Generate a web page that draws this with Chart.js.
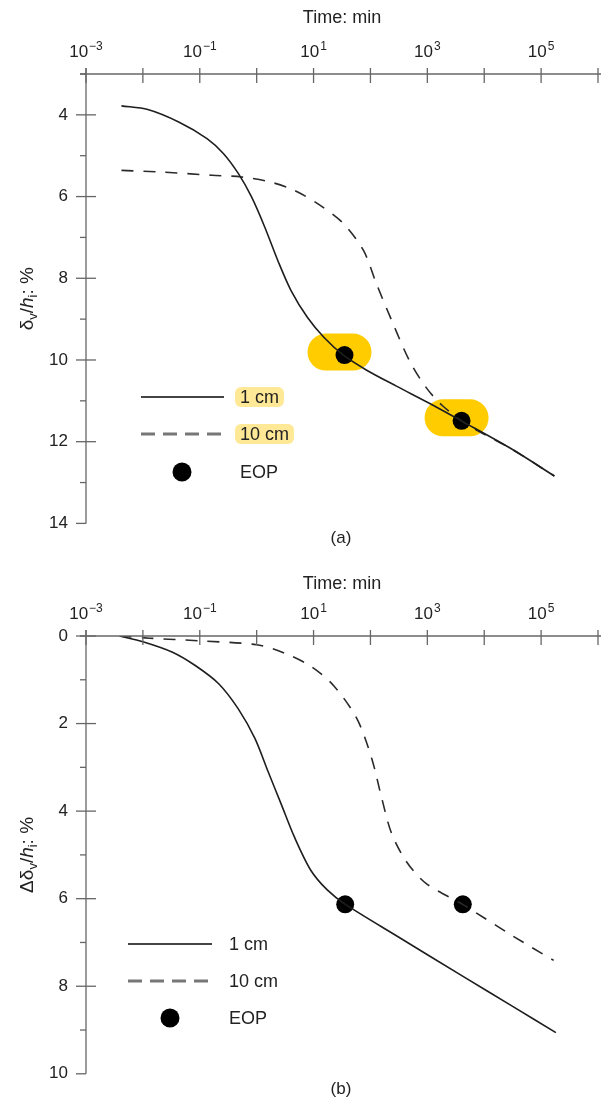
<!DOCTYPE html>
<html>
<head>
<meta charset="utf-8">
<script src="https://cdn.jsdelivr.net/npm/chart.js@4.4.0/dist/chart.umd.min.js"></script>
<style>
  html, body { margin: 0; padding: 0; background: #fff; }
  #wrap { position: relative; width: 607px; height: 1102px; }
  canvas { position: absolute; left: 0; }
  #chartA { top: 0; }
  #chartB { top: 555px; }
</style>
</head>
<body>
<div id="wrap">
  <canvas id="chartA" width="607" height="555"></canvas>
  <canvas id="chartB" width="607" height="547"></canvas>
</div>
<script>
// ---- data (time in min) ----

// (a) delta_v / h_i, %
const timeSolidA = [0.0042, 0.0122, 0.0434, 0.134, 0.262, 0.478, 0.813, 1.39, 2.36, 4.02, 7.83, 15.3, 34, 86, 286, 1084, 3950, 30400, 171000];
const valSolidA  = [3.78, 3.87, 4.18, 4.58, 4.95, 5.44, 6.01, 6.75, 7.57, 8.30, 8.96, 9.45, 9.89, 10.25, 10.64, 11.06, 11.49, 12.18, 12.84];
const timeDashA  = [0.0042, 0.0222, 0.164, 0.545, 1.81, 4.6, 13.3, 34, 75.5, 128, 251, 486, 948, 1850, 5000, 30400, 171000];
const valDashA   = [5.36, 5.40, 5.48, 5.52, 5.65, 5.85, 6.22, 6.67, 7.32, 8.14, 9.12, 10.02, 10.67, 11.12, 11.58, 12.18, 12.84];
const timeEopA   = [35, 4000];
const valEopA    = [9.88, 11.49];

// (b) delta delta_v / h_i, %
const timeSolidB = [0.0039, 0.01, 0.0332, 0.0845, 0.215, 0.478, 0.931, 1.58, 2.7, 4.6, 8.93, 17.4, 36.3, 316, 4170, 31600, 182000];
const valSolidB  = [0.0, 0.13, 0.37, 0.68, 1.09, 1.67, 2.34, 3.09, 3.84, 4.59, 5.35, 5.80, 6.13, 6.88, 7.77, 8.46, 9.06];
const timeDashB  = [0.0039, 0.0131, 0.0964, 0.993, 3.09, 8.93, 22.8, 57.8, 105, 157, 234, 427, 948, 4170, 31600, 166000];
const valDashB   = [0.0, 0.05, 0.11, 0.20, 0.39, 0.69, 1.14, 1.89, 2.79, 3.69, 4.5, 5.15, 5.65, 6.13, 6.85, 7.41];
const timeEopB   = [36, 4200];
const valEopB    = [6.13, 6.13];

// axis ticks
const decadeExps   = [-3, -2, -1, 0, 1, 2, 3, 4, 5, 6];
const labelledExps = [-3, -1, 1, 3, 5];
const legendLabels = ['1 cm', '10 cm', 'EOP'];

const FONT = "'Liberation Sans', Arial, sans-serif";
const INK = '#222';
const AXIS = '#666';

function pairs(xs, ys) {
    return xs.map((x, i) => ({ x: x, y: ys[i] }));
}

function seg(ctx, x1, y1, x2, y2) {
    ctx.beginPath();
    ctx.moveTo(x1, y1);
    ctx.lineTo(x2, y2);
    ctx.stroke();
}

// rotated y title with subscripts / italic h
function drawYTitle(ctx, parts, x, cy) {
    ctx.save();
    ctx.translate(x, cy);
    ctx.rotate(-Math.PI / 2);
    let total = 0;
    parts.forEach(p => {
        ctx.font = p.font;
        p.w = ctx.measureText(p.t).width;
        total += p.w;
    });
    let cx = -total / 2;
    ctx.fillStyle = INK;
    ctx.textAlign = 'left';
    ctx.textBaseline = 'alphabetic';
    parts.forEach(p => {
        ctx.font = p.font;
        ctx.fillText(p.t, cx, p.dy || 0);
        cx += p.w;
    });
    ctx.restore();
}

function decorPlugin(cfg) {
    return {
        id: 'decor',
        beforeDatasetsDraw(chart) {
            if (!cfg.pills) return;
            const ctx = chart.ctx;
            const meta = chart.getDatasetMeta(2);
            ctx.save();
            ctx.fillStyle = '#FFCC00';
            meta.data.forEach(pt => {
                const w = 64, h = 37;
                const cx = pt.x - 5, cy = pt.y - 3;
                ctx.beginPath();
                ctx.roundRect(cx - w / 2, cy - h / 2, w, h, h / 2);
                ctx.fill();
            });
            ctx.restore();
        },
        afterDraw(chart) {
            const ctx = chart.ctx;
            const xs = chart.scales.x;
            const ys = chart.scales.y;
            const a = chart.chartArea;
            ctx.save();

            // axis lines
            ctx.strokeStyle = AXIS;
            ctx.lineWidth = 1.3;
            seg(ctx, a.left - 6, a.top, a.right + 3, a.top);
            seg(ctx, a.left, a.top - 6, a.left, a.bottom);

            // x ticks crossing the axis
            decadeExps.forEach(e => {
                const px = xs.getPixelForValue(Math.pow(10, e));
                seg(ctx, px, a.top - 6, px, a.top + 9);
            });

            // y ticks: major on even values, minor on odd
            for (let v = Math.ceil(ys.min); v <= ys.max; v++) {
                const py = ys.getPixelForValue(v);
                if (v % 2 === 0) {
                    seg(ctx, a.left - 10, py, a.left + (v === ys.max ? 0 : 10), py);
                } else {
                    seg(ctx, a.left - 6, py, a.left, py);
                }
            }

            // x tick labels 10^n
            ctx.fillStyle = INK;
            ctx.textAlign = 'left';
            ctx.textBaseline = 'alphabetic';
            labelledExps.forEach(e => {
                const px = xs.getPixelForValue(Math.pow(10, e));
                const exp = e < 0 ? '\u2212' + Math.abs(e) : String(e);
                ctx.font = '17px ' + FONT;
                const wb = ctx.measureText('10').width;
                ctx.font = '12px ' + FONT;
                const we = ctx.measureText(exp).width;
                const x0 = px - (wb + we + 1) / 2;
                const base = a.top - 17;
                ctx.font = '17px ' + FONT;
                ctx.fillText('10', x0, base);
                ctx.font = '12px ' + FONT;
                ctx.fillText(exp, x0 + wb + 1, base - 7.5);
            });

            // x axis title
            ctx.font = '18px ' + FONT;
            ctx.textAlign = 'center';
            ctx.textBaseline = 'middle';
            ctx.fillText('Time: min', 342, cfg.titleY);

            // y axis title
            drawYTitle(ctx, cfg.yTitle, 33, (a.top + a.bottom) / 2);

            // caption
            ctx.font = '17px ' + FONT;
            ctx.textAlign = 'center';
            ctx.textBaseline = 'middle';
            ctx.fillStyle = INK;
            ctx.fillText(cfg.caption, 341, cfg.captionY);

            // legend
            const L = cfg.legend;
            ctx.strokeStyle = '#444';
            ctx.lineWidth = 2;
            seg(ctx, L.x0, L.rows[0], L.x1, L.rows[0]);
            ctx.strokeStyle = '#777';
            ctx.lineWidth = 3;
            ctx.setLineDash([14, 8]);
            seg(ctx, L.x0, L.rows[1], L.x1, L.rows[1]);
            ctx.setLineDash([]);
            ctx.fillStyle = '#000';
            ctx.beginPath();
            ctx.arc(L.dotX, L.rows[2], 9.5, 0, Math.PI * 2);
            ctx.fill();

            ctx.font = '18px ' + FONT;
            ctx.textAlign = 'left';
            ctx.textBaseline = 'middle';
            legendLabels.forEach((txt, i) => {
                const y = L.rows[i];
                if (L.highlight && i < 2) {
                    const w = ctx.measureText(txt).width;
                    ctx.fillStyle = '#FFE896';
                    ctx.beginPath();
                    ctx.roundRect(L.tx - 5, y - 10, w + 10, 20, 6);
                    ctx.fill();
                }
                ctx.fillStyle = INK;
                ctx.fillText(txt, L.tx, y + 1);
            });

            ctx.restore();
        }
    };
}

function makeChart(id, cfg) {
    return new Chart(document.getElementById(id), {
        type: 'line',
        data: {
            datasets: [{
                label: '1 cm',
                data: pairs(cfg.tSolid, cfg.vSolid),
                borderColor: '#1e1e1e',
                borderWidth: 1.6,
                pointRadius: 0,
                tension: 0.3,
                fill: false
            }, {
                label: '10 cm',
                data: pairs(cfg.tDash, cfg.vDash),
                borderColor: '#2a2a2a',
                borderWidth: 1.6,
                borderDash: [12, 10],
                pointRadius: 0,
                tension: 0.3,
                fill: false
            }, {
                label: 'EOP',
                data: pairs(cfg.tEop, cfg.vEop),
                showLine: false,
                pointRadius: 9,
                pointHoverRadius: 9,
                pointBackgroundColor: '#000',
                pointBorderWidth: 0
            }]
        },
        options: {
            responsive: false,
            animation: false,
            layout: { padding: { left: 0, right: 3, top: 0, bottom: cfg.padBottom } },
            plugins: {
                legend: { display: false },
                tooltip: { enabled: false }
            },
            scales: {
                x: {
                    type: 'logarithmic',
                    position: 'top',
                    min: 1e-3,
                    max: 1e6,
                    ticks: { display: false },
                    grid: { display: false },
                    border: { display: false },
                    afterFit: s => { s.height = cfg.topH; }
                },
                y: {
                    type: 'linear',
                    position: 'left',
                    reverse: true,
                    min: cfg.yMin,
                    max: cfg.yMax,
                    ticks: {
                        stepSize: 1,
                        autoSkip: false,
                        padding: 18,
                        color: INK,
                        font: { family: FONT, size: 17 },
                        callback: v => (v % 2 === 0 ? v : '')
                    },
                    grid: { display: false, drawTicks: false },
                    border: { display: false },
                    afterFit: s => { s.width = 86; }
                }
            }
        },
        plugins: [decorPlugin(cfg)]
    });
}

const SUB = '13px ' + FONT;
const REG = '19px ' + FONT;
const ITA = 'italic 19px ' + FONT;

makeChart('chartA', {
    tSolid: timeSolidA, vSolid: valSolidA,
    tDash: timeDashA, vDash: valDashA,
    tEop: timeEopA, vEop: valEopA,
    yMin: 3, yMax: 14,
    topH: 74, padBottom: 31.6,
    titleY: 18,
    caption: '(a)', captionY: 538,
    pills: true,
    yTitle: [
        { t: '\u03b4', font: REG },
        { t: 'v', font: SUB, dy: 4 },
        { t: '/', font: REG },
        { t: 'h', font: ITA },
        { t: 'i', font: SUB, dy: 4 },
        { t: ': %', font: REG }
    ],
    legend: { x0: 141, x1: 224, dotX: 182, tx: 240, rows: [397, 434, 472], highlight: true }
});

makeChart('chartB', {
    tSolid: timeSolidB, vSolid: valSolidB,
    tDash: timeDashB, vDash: valDashB,
    tEop: timeEopB, vEop: valEopB,
    yMin: 0, yMax: 10,
    topH: 81, padBottom: 22,
    titleY: 29.5,
    caption: '(b)', captionY: 534,
    pills: false,
    yTitle: [
        { t: '\u0394\u03b4', font: REG },
        { t: 'v', font: SUB, dy: 4 },
        { t: '/', font: REG },
        { t: 'h', font: ITA },
        { t: 'i', font: SUB, dy: 4 },
        { t: ': %', font: REG }
    ],
    legend: { x0: 128, x1: 212, dotX: 170, tx: 229, rows: [389, 426, 463], highlight: false }
});
</script>
</body>
</html>
